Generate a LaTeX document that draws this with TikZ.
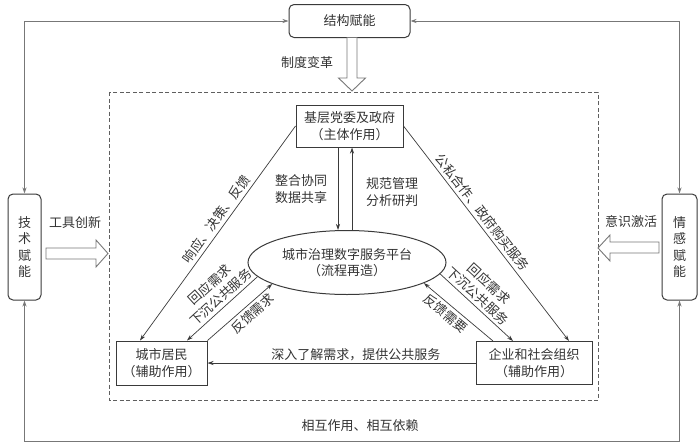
\documentclass[tikz,border=0pt]{standalone}
\usepackage{fontspec}
\setmainfont{Noto Sans CJK SC}
\usetikzlibrary{arrows.meta,shapes.geometric}
\definecolor{ln}{HTML}{3A3A3A}
\definecolor{gl}{HTML}{777777}
\definecolor{tx}{HTML}{333333}
\begin{document}
\begin{tikzpicture}[x=1pt,y=-1pt,
  every node/.style={text=tx, font=\fontsize{13}{16.5}\selectfont},
  box/.style={draw=ln, line width=1pt, align=center, inner sep=0pt},
  rbox/.style={draw=ln, line width=1pt, rounded corners=5pt, align=center, inner sep=0pt},
  conn/.style={draw=ln, line width=0.7pt, -{Stealth[length=6pt,width=4pt]}},
  loop/.style={draw=gl, line width=0.9pt, {Stealth[length=6pt,width=4pt]}-{Stealth[length=6pt,width=4pt]}},
  blk/.style={draw=gl, line width=0.9pt, fill=white},
  lbl/.style={inner sep=2pt, align=center},
  slbl/.style={inner sep=1pt, outer sep=2.5pt, align=center, sloped}]
\useasboundingbox (0,0) rectangle (700,447);

% outer nodes
\node[rbox, minimum width=121pt, minimum height=33pt] (jg) at (349.5,21) {结构赋能};
\node[rbox, minimum width=33pt, minimum height=106pt] (js) at (24.5,247) {技\\术\\赋\\能};
\node[rbox, minimum width=35pt, minimum height=106pt] (qg) at (679.5,247) {情\\感\\赋\\能};

% dashed frame
\draw[gl!80!black, line width=0.8pt, dash pattern=on 4pt off 2.5pt] (109,92) rectangle (598,400);

% inner nodes
\node[box, minimum width=107pt, minimum height=42pt] (top) at (349.5,126) {基层党委及政府\\（主体作用）};
\node[draw=ln, line width=1pt, ellipse, minimum width=198pt, minimum height=64pt, inner sep=0pt, align=center] (ell) at (347,262.5) {城市治理数字服务平台\\（流程再造）};
\node[box, minimum width=91pt, minimum height=44pt] (cm) at (161.5,363) {城市居民\\（辅助作用）};
\node[box, minimum width=116pt, minimum height=43pt] (qy) at (534,363) {企业和社会组织\\（辅助作用）};

% outer loop
\draw[loop] (js.north) |- (jg.west);
\draw[loop] (qg.north) |- (jg.east);
\coordinate (bl) at (24.5,441.5);
\coordinate (br) at (679.5,441.5);
\draw[loop] (js.south) -- (bl) -- (br) -- (qg.south);
\node[lbl] (mutual) at (360,426) {相互作用、相互依赖};

% block arrows
\draw[blk] (347,37.5) -- (357,37.5) -- (357,78) -- (365.5,78) -- (352,91) -- (338.5,78) -- (347,78) -- cycle;
\node[lbl] (zd) at (307,63) {制度变革};
\draw[blk] (46,248) -- (96,248) -- (96,240) -- (108,253.5) -- (96,267) -- (96,259) -- (46,259) -- cycle;
\node[lbl] (gj) at (75,223) {工具创新};
\draw[blk] (659,242) -- (610,242) -- (610,235) -- (598,248) -- (610,261) -- (610,253) -- (659,253) -- cycle;
\node[lbl] (ys) at (631,222) {意识激活};

% connectors
\draw[conn] (top.west) -- node[slbl, above, pos=0.46] {响应、决策、反馈} ([xshift=-21.5pt]cm.north);
\draw[conn] (top.east) -- node[slbl, above, pos=0.43] {公私合作、政府购买服务} ([xshift=35pt]qy.north);

\coordinate (xa) at (338,0);
\coordinate (xb) at (352,0);
\draw[conn] (top.south -| xa) -- (ell.north -| xa);
\draw[conn] (ell.north -| xb) -- (top.south -| xb);
\node[lbl] (l1) at (301,189) {整合协同\\数据共享};
\node[lbl] (l2) at (392,192) {规范管理\\分析研判};

\draw[conn] (ell.189) -- node[slbl, above, pos=0.43] {回应需求\\下沉公共服务} ([xshift=25.5pt]cm.north);
\draw[conn] (cm.north east) -- node[slbl, below, pos=0.6] {反馈需求} (ell.196);
\draw[conn] (ell.-7) -- node[slbl, above, pos=0.43] {回应需求\\下沉公共服务} ([xshift=-21pt]qy.north);
\draw[conn] ([xshift=-41pt]qy.north) -- node[slbl, below, pos=0.6] {反馈需要} (ell.-15);

\draw[conn] (qy.west) -- node[lbl, above, pos=0.446] {深入了解需求，提供公共服务} (cm.east);
\end{tikzpicture}
\end{document}
